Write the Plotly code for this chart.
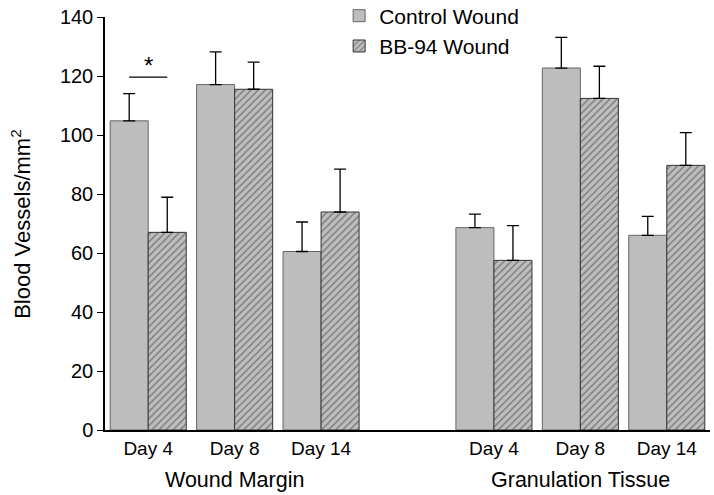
import plotly.graph_objects as go

# ---- data ----
positions = [0, 1, 2, 4, 5, 6]
day_labels = ["Day 4", "Day 8", "Day 14", "Day 4", "Day 8", "Day 14"]
group_labels = ["Wound Margin", "Granulation Tissue"]
group_centers = [1, 5]

control_vals = [104.8, 117.1, 60.5, 68.6, 122.7, 66.0]
control_err = [9.2, 11.1, 10.0, 4.6, 10.4, 6.4]
bb94_vals = [67.0, 115.5, 73.9, 57.5, 112.4, 89.7]
bb94_err = [11.9, 9.2, 14.5, 11.8, 10.9, 11.1]

sig_level = 119.6
sig_star_level = 123.5

FONT = "Liberation Sans, Arial, sans-serif"
GRAY = "#bdbdbd"

fig = go.Figure()
fig.add_trace(go.Bar(
    x=positions, y=control_vals, name="Control Wound",
    marker=dict(color=GRAY, line=dict(color="#666666", width=1)),
    error_y=dict(type="data", array=control_err, arrayminus=[0] * 6, symmetric=False,
                 color="black", thickness=1.3, width=6),
))
fig.add_trace(go.Bar(
    x=positions, y=bb94_vals, name="BB-94 Wound",
    marker=dict(color=GRAY, line=dict(color="#333333", width=1),
                pattern=dict(shape="/", fgcolor="#2a2a2a", bgcolor=GRAY, size=5, solidity=0.25)),
    error_y=dict(type="data", array=bb94_err, arrayminus=[0] * 6, symmetric=False,
                 color="black", thickness=1.3, width=6),
))

# significance bracket between Day 4 bars (wound margin)
bar_half = 0.22
fig.add_shape(type="line", xref="x", yref="y",
              x0=positions[0] - bar_half, x1=positions[0] + bar_half,
              y0=sig_level, y1=sig_level, line=dict(color="black", width=1.2))
fig.add_annotation(x=positions[0], y=sig_star_level, xref="x", yref="y", text="*",
                   showarrow=False, yanchor="middle",
                   font=dict(size=24, color="black", family=FONT))

for lbl, c in zip(group_labels, group_centers):
    fig.add_annotation(x=c, y=-0.121, xref="x", yref="paper", text=lbl, showarrow=False,
                       yanchor="middle", font=dict(size=21.5, color="black", family=FONT))

fig.add_annotation(x=-0.14, y=0.5, xref="paper", yref="paper",
                   text="Blood Vessels/mm<sup>2</sup>", textangle=-90, showarrow=False,
                   xanchor="center", yanchor="middle",
                   font=dict(size=22, color="black", family=FONT))

fig.update_layout(
    width=714, height=495,
    margin=dict(l=105, r=4, t=17, b=65, autoexpand=False),
    paper_bgcolor="white", plot_bgcolor="white",
    barmode="group", bargap=0.12, bargroupgap=0,
    font=dict(family=FONT, color="black", size=20),
    showlegend=True,
    legend=dict(x=0.387, y=1.052, xanchor="left", yanchor="top",
                bgcolor="rgba(0,0,0,0)", font=dict(size=21, family=FONT),
                tracegroupgap=0),
    xaxis=dict(range=[-0.5, 6.5], tickvals=positions, ticktext=day_labels,
               showline=True, linecolor="black", linewidth=1.5, ticks="",
               showgrid=False, zeroline=False, tickfont=dict(size=19),
               automargin=False),
    yaxis=dict(range=[0, 140], dtick=20, showline=True, linecolor="black", linewidth=1.5,
               ticks="outside", ticklen=6, tickwidth=1.3, tickcolor="black",
               showgrid=False, zeroline=False, tickfont=dict(size=20),
               automargin=False),
)

fig.write_html("out.html", config={"displayModeBar": False},
               post_script="document.body.style.margin='0px';")
